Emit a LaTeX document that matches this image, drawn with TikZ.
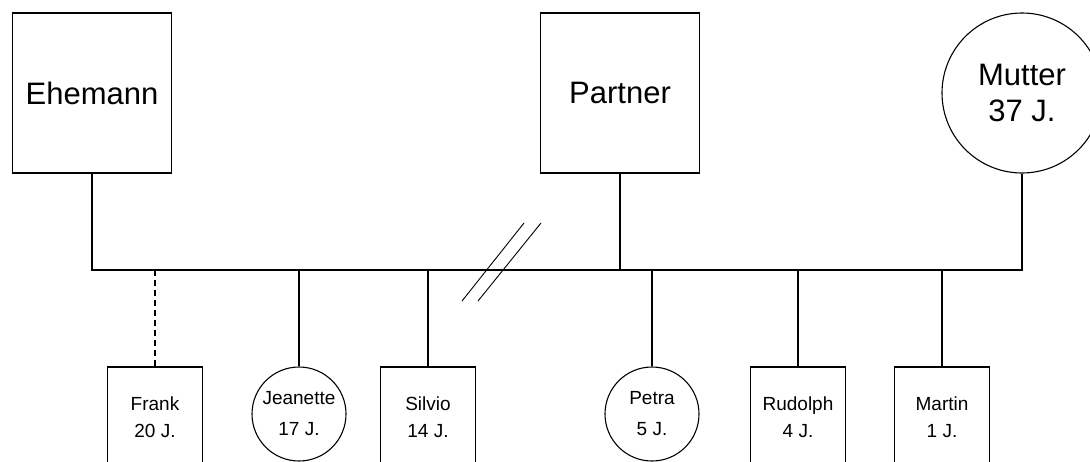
\documentclass[tikz,border=0pt]{standalone}
\usepackage{fontspec}
\setmainfont{Liberation Sans}
\usetikzlibrary{positioning}

\begin{document}
\begin{tikzpicture}[x=1pt, y=-1pt, line width=1.1pt,
    adult/.style={rectangle, draw, minimum width=159pt, minimum height=160pt, inner sep=0pt,
      font=\fontsize{31}{36}\selectfont, align=center},
    adultf/.style={circle, draw, minimum size=160pt, inner sep=0pt,
      font=\fontsize{31}{36}\selectfont, align=center},
    kid/.style={rectangle, draw, minimum width=95pt, minimum height=100pt, inner sep=0pt,
      font=\fontsize{19}{27}\selectfont, align=center},
    kidf/.style={circle, draw, minimum size=94pt, inner sep=0pt,
      font=\fontsize{19}{31}\selectfont, align=center}]
  \clip (0,0) rectangle (1090,461);
  \fill[white] (0,0) rectangle (1090,461);
  % parents
  \node[adult] (ehe) at (92,93) {Ehemann};
  \node[adult] (par) at (620,93) {Partner};
  \node[adultf] (mut) at (1022,93) {Mutter\\37 J.};
  \coordinate (bus) at (0,270);
  % children
  \node[kid] (fra) at (155,417) {Frank\\20 J.};
  \node[kidf] (jea) at (299,414) {Jeanette\\17 J.};
  \node[kid] (sil) at (428,417) {Silvio\\14 J.};
  \node[kidf] (pet) at (652,414) {Petra\\5 J.};
  \node[kid] (rud) at (798,417) {Rudolph\\4 J.};
  \node[kid] (mar) at (942,417) {Martin\\1 J.};
  % lines
  \draw (ehe.south) -- (ehe.south |- bus) -| (mut.south);
  \draw (par.south) -- (par.south |- bus);
  \draw[dash pattern=on 6pt off 4pt] (fra.north) -- (fra.north |- bus);
  \foreach \k in {jea,sil,pet,rud,mar}
    \draw (\k.north) -- (\k.north |- bus);
  % separation
  \coordinate (s1a) at (462,301); \coordinate (s1b) at (524,223);
  \coordinate (s2a) at (478,301); \coordinate (s2b) at (541,223);
  \draw[line width=0.9pt] (s1a) -- (s1b);
  \draw[line width=0.9pt] (s2a) -- (s2b);
\end{tikzpicture}
\end{document}
